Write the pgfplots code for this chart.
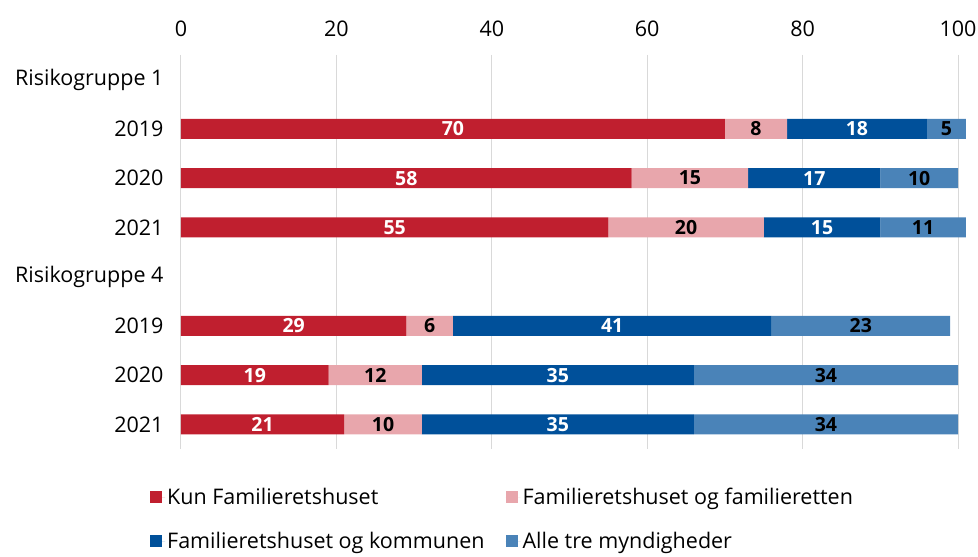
\documentclass[border=0pt]{standalone}
\usepackage{pgfplots}
\pgfplotsset{compat=1.18}
\usepackage{fontspec}
\setmainfont{Open Sans}

\definecolor{kunred}{HTML}{C01F2F}
\definecolor{pinkfam}{HTML}{E8A6AC}
\definecolor{darkblue}{HTML}{00509A}
\definecolor{lightblue}{HTML}{4A83B8}

\begin{document}
\begin{tikzpicture}
\begin{axis}[
  scale only axis, width=777pt, height=394pt,
  xbar stacked, bar width=20pt, clip=false,
  xmin=0, xmax=100, ymin=-0.5, ymax=7.5, y dir=reverse,
  xtick={0,20,...,100}, xticklabel pos=upper,
  ytick={0,...,7},
  yticklabels={Risikogruppe 1,2019,2020,2021,Risikogruppe 4,2019,2020,2021},
  major tick length=0pt,
  axis line style={draw=none},
  xmajorgrids, grid style={gray!30, line width=1pt},
  tick label style={font=\fontsize{21.5}{24}\selectfont},
  /pgf/number format/assume math mode=true,
  xticklabel shift=15pt, yticklabel shift=14pt,
  point meta=rawx,
  nodes near coords={\pgfmathprintnumber{\pgfplotspointmeta}},
  every node near coord/.append style={font=\fontsize{19.5}{22}\selectfont\bfseries},
  legend columns=2,
  legend style={at={(0,0)}, anchor=north west, xshift=-31pt, yshift=-37pt,
    draw=none, font=\fontsize{21.5}{24}\selectfont,
    /tikz/every even column/.append style={column sep=19pt},
    row sep=22pt, inner sep=0pt},
  legend image code/.code={\fill[#1] (0pt,-6pt) rectangle (12pt,6pt); \path (0pt,0pt) -- (15pt,0pt);},
  legend cell align=left,
]
\addplot[fill=kunred, draw=none, every node near coord/.append style={text=white}]
  coordinates {(70,1) (58,2) (55,3) (29,5) (19,6) (21,7)};
\addlegendentry{Kun Familieretshuset}
\addplot[fill=pinkfam, draw=none, every node near coord/.append style={text=black}]
  coordinates {(8,1) (15,2) (20,3) (6,5) (12,6) (10,7)};
\addlegendentry{Familieretshuset og familieretten}
\addplot[fill=darkblue, draw=none, every node near coord/.append style={text=white}]
  coordinates {(18,1) (17,2) (15,3) (41,5) (35,6) (35,7)};
\addlegendentry{Familieretshuset og kommunen}
\addplot[fill=lightblue, draw=none, every node near coord/.append style={text=black}]
  coordinates {(5,1) (10,2) (11,3) (23,5) (34,6) (34,7)};
\addlegendentry{Alle tre myndigheder}
\end{axis}
\pgfresetboundingbox
\path ([xshift=-181pt,yshift=55pt]current axis.north west) rectangle ([xshift=20pt,yshift=-108pt]current axis.south east);
\end{tikzpicture}
\end{document}
